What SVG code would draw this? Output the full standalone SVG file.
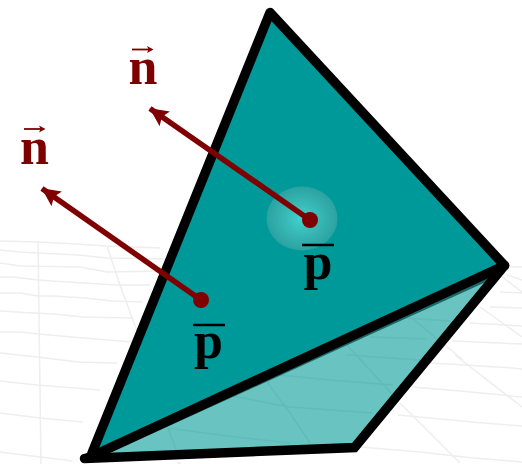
<svg xmlns="http://www.w3.org/2000/svg" width="522" height="464" viewBox="0 0 522 464">
<defs>
<radialGradient id="glow"><stop offset="0" stop-color="#40d4d0"/><stop offset="0.5" stop-color="#38b8b6"/><stop offset="1" stop-color="#2ba2a1"/></radialGradient>
<marker id="head" markerUnits="userSpaceOnUse" markerWidth="22" markerHeight="20" refX="18" refY="9" orient="auto"><path d="M0 0L18.500 9L0 18L3.500 9Z" fill="#7f0000"/></marker>
</defs>
<style>
.grid{fill:none;stroke:#eeeeee;stroke-width:1.500}
.edge{fill:none;stroke:#000;stroke-width:9.500;stroke-linecap:round;stroke-linejoin:round}
.corner{stroke-linejoin:miter}
.normal{stroke:#7f0000;stroke-width:5.500;fill:none;marker-end:url(#head)}
.dot{fill:#7f0000}
.lbl{font-family:"Liberation Serif",serif;font-weight:700;font-size:52px;text-anchor:middle}
.red{fill:#7f0000}
.bar{stroke:#000;stroke-width:2.500}
.vec{stroke:#7f0000;stroke-width:1.800;fill:none}
.tip{fill:#7f0000}
</style>
<g id="background-grid" class="grid">
<path d="M0 241L38 242L77 244L107 246L160 248"/>
<path d="M0 250L20 252L38 253L78 255L107 258L167 259"/>
<path d="M0 263L20 266L80 267L107 272L167 271"/>
<path d="M0 277L13 277L38 280L83 283L117 285L150 285"/>
<path d="M0 293L20 293L38 296L53 296L85 298L113 301L143 302"/>
<path d="M0 311L33 313L53 314L83 317L133 318"/>
<path d="M0 332L20 332L38 334L83 338L133 342"/>
<path d="M0 353L37 357L78 362L117 363"/>
<path d="M0 381L37 385L100 390"/>
<path d="M0 413L40 418L83 422"/>
<path d="M0 452L40 457L73 461"/>
<path d="M38 241L41 464"/>
<path d="M107 246L120 285L137 331"/>
<path d="M177 462L181 464"/>
<path d="M510 267L522 267"/>
<path d="M507 275L522 280"/>
<path d="M500 275L522 292"/>
<path d="M500 292L522 293"/>
<path d="M490 307L522 308"/>
<path d="M480 307L522 337"/>
<path d="M470 323L522 326"/>
<path d="M453 341L522 344"/>
<path d="M445 345L463 360"/>
<path d="M455 355L522 407"/>
<path d="M430 363L513 368L522 369"/>
<path d="M412 387L460 391L522 397"/>
<path d="M398 415L483 423L522 426"/>
<path d="M400 403L460 463"/>
<path d="M360 447L420 452L473 458L522 462"/>
</g>
<g id="lower-face">
<path d="M86 458L503 266L355 447Z" fill="#69c3c0"/>
<g fill="none" stroke="#60bcb9" stroke-width="1.500">
<path d="M168 428L227 436L290 443"/>
<path d="M168 428L177 452"/>
<path d="M227 395L290 407L373 413"/>
<path d="M267 382L290 413L310 443"/>
<path d="M280 375L330 380L393 385"/>
<path d="M345 343L393 395"/>
<path d="M347 355L420 360"/>
<path d="M370 337L427 339"/>
<path d="M412 318L437 339"/>
<path d="M407 318L450 321"/>
</g>
</g>
<g id="upper-face">
<path d="M270 12L504 266L86 458Z" fill="#009999"/>
<ellipse cx="302" cy="218.500" rx="35.500" ry="32" fill="url(#glow)"/>
</g>
<g id="edges">
<path d="M86 458.500L501 270" fill="none" stroke="#176a68" stroke-width="9.500"/>
<path class="edge" d="M88 458L504.500 265.500"/>
<path class="edge corner" d="M504.500 265.500L354.500 447.500L84.500 458.500"/>
<path class="edge" d="M92 453L270 12.500L504.500 265.500"/>
</g>
<g id="connectors">
<path class="normal" d="M310 220L150 108.500"/>
<path class="normal" d="M201 300L42 188.500"/>
</g>
<g id="point-a">
<circle class="dot" cx="310" cy="220" r="8"/>
<path class="bar" d="M302 245H334"/>
<text class="lbl" x="318" y="279">p</text>
</g>
<g id="point-b">
<circle class="dot" cx="201" cy="300" r="8"/>
<path class="bar" d="M193 325H225"/>
<text class="lbl" x="208.500" y="358">p</text>
</g>
<g id="normal-a">
<text class="lbl red" x="143" y="84">n</text>
<path class="vec" d="M132 49.500H150"/>
<path class="tip" d="M147 46L153.500 49.500L147 53L148.500 49.500Z"/>
</g>
<g id="normal-b">
<text class="lbl red" x="34.500" y="164">n</text>
<path class="vec" d="M24 129H42"/>
<path class="tip" d="M39 125.500L45.500 129L39 132.500L40.500 129Z"/>
</g>
</svg>
